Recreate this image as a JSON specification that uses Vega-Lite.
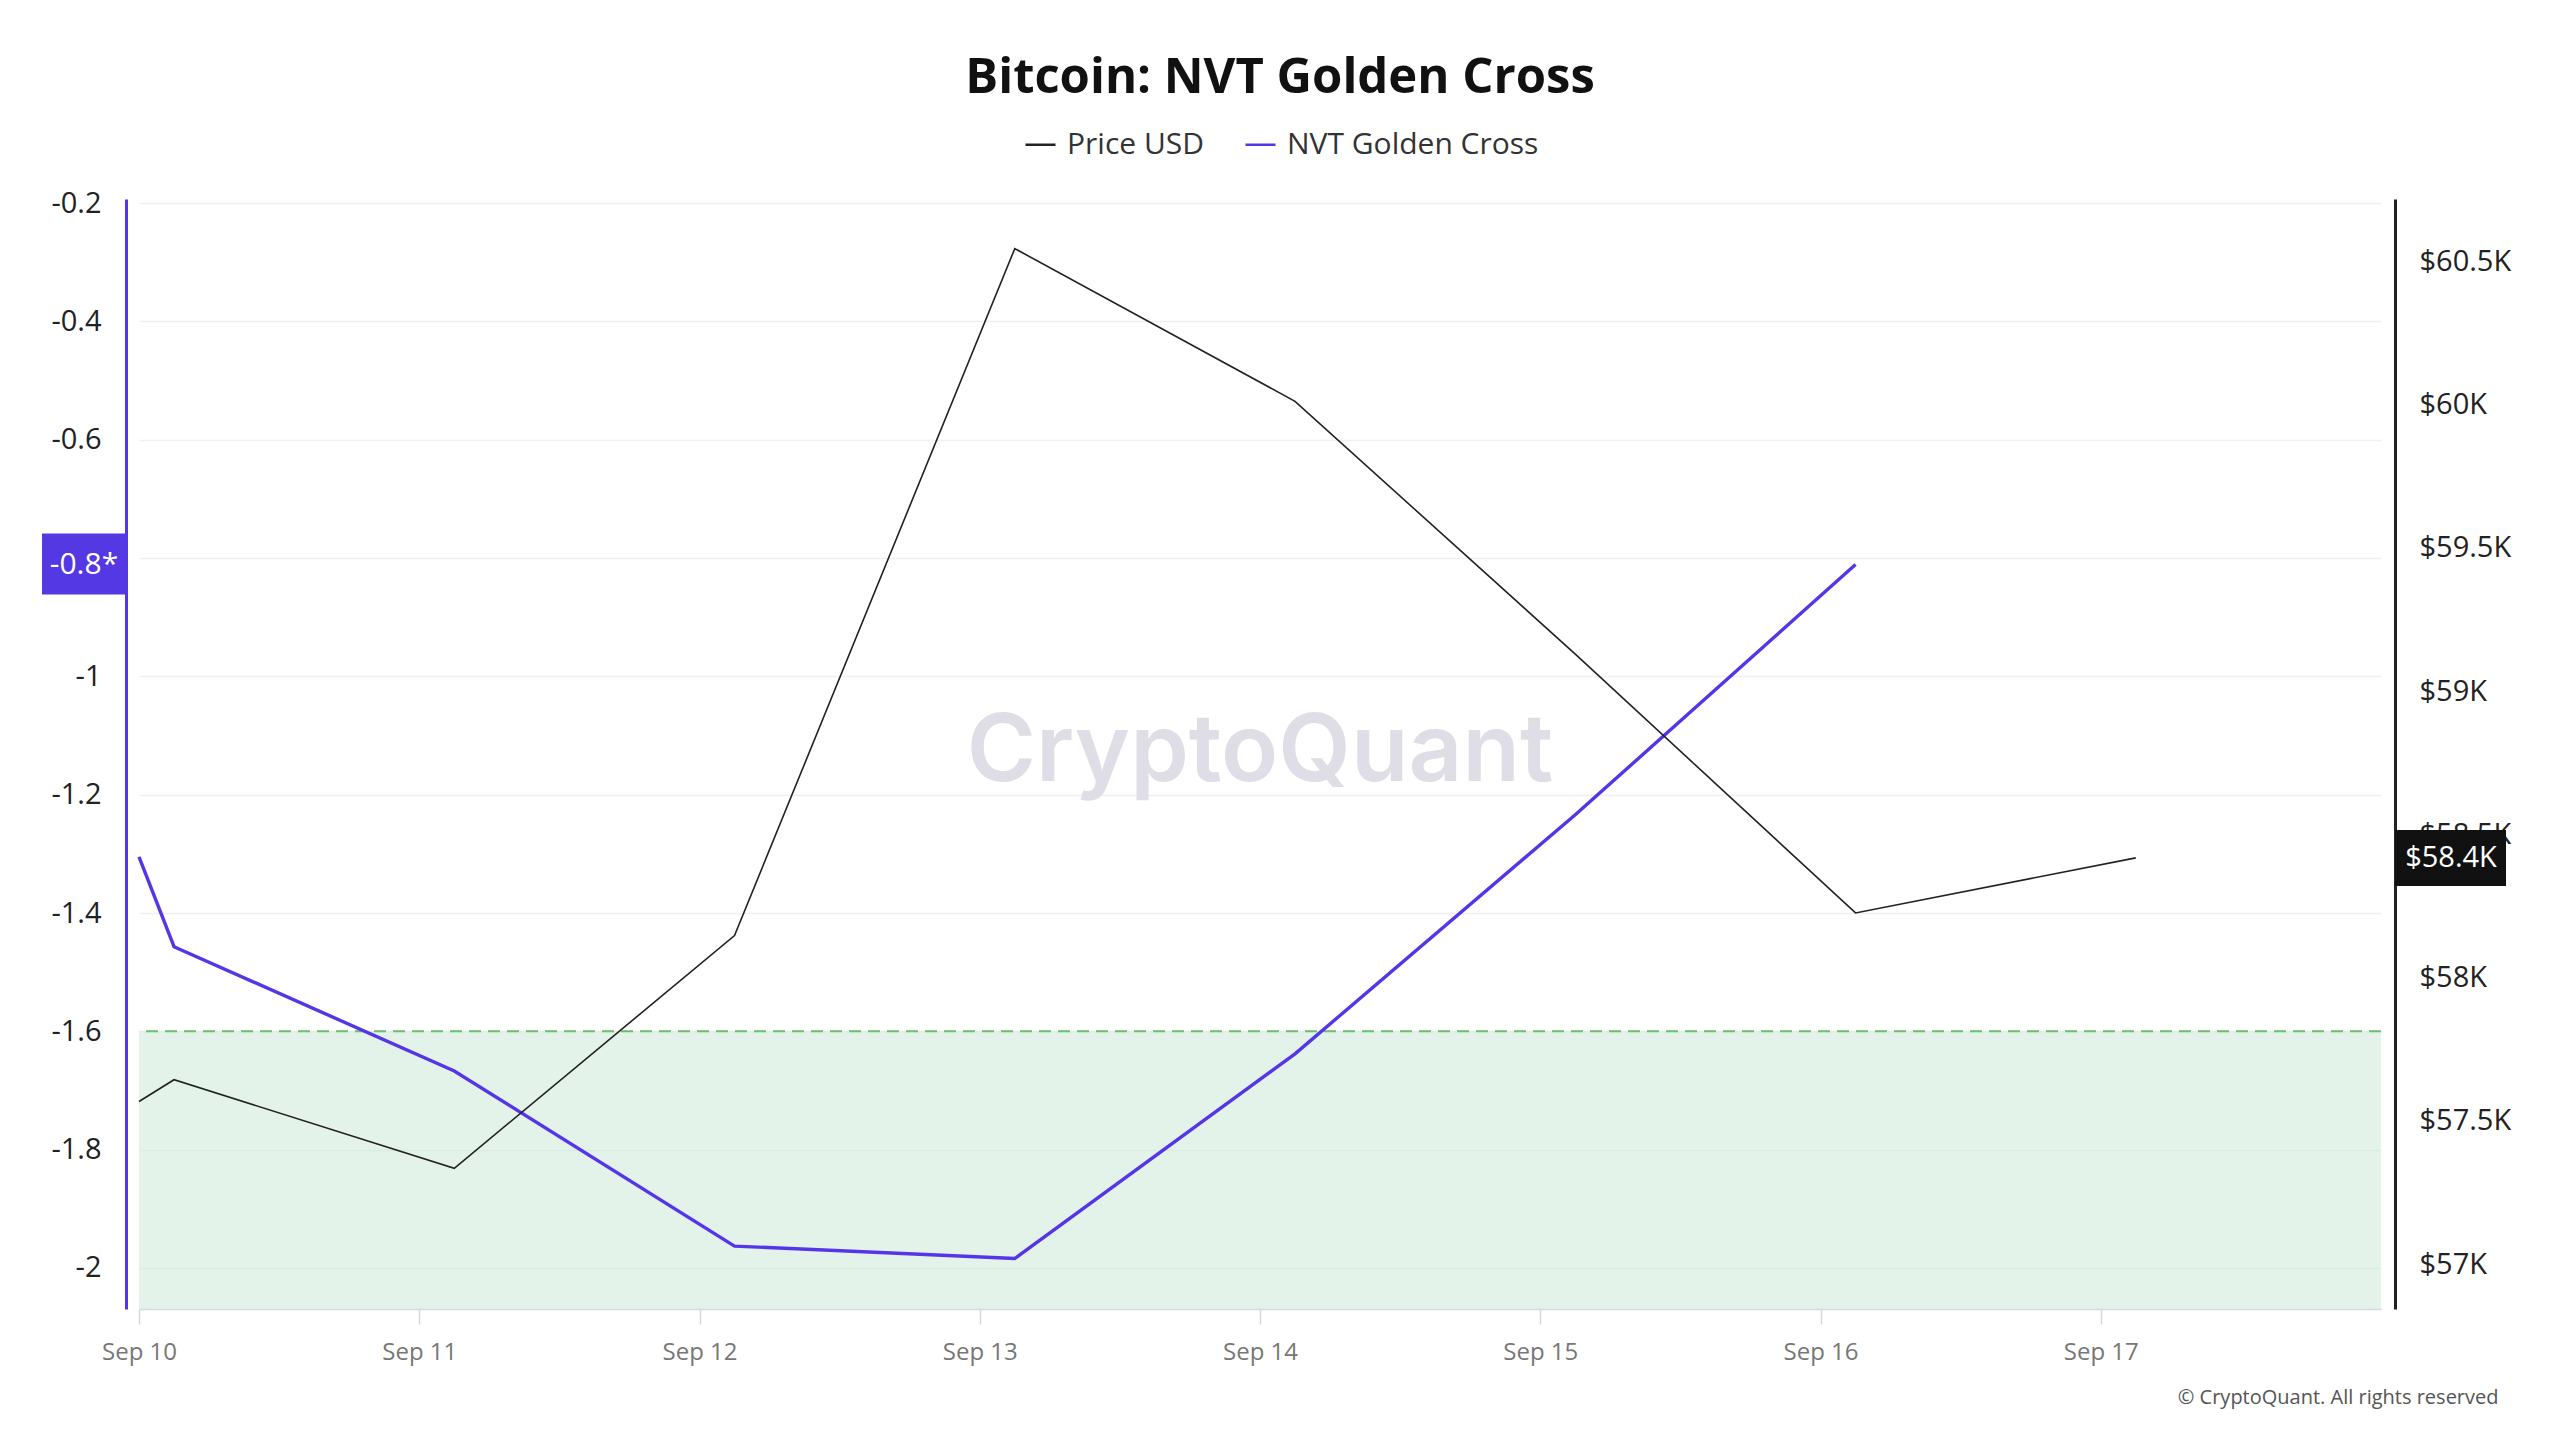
{
  "$schema": "https://vega.github.io/schema/vega-lite/v6.json",
  "width": 2242,
  "height": 1110,
  "autosize": "none",
  "padding": {"left": 139, "top": 199, "right": 179, "bottom": 131},
  "background": "white",
  "config": {
    "font": "Open Sans",
    "view": {"stroke": null},
    "locale": {"number": {"decimal": ".", "thousands": ",", "grouping": [3], "currency": ["$", ""], "minus": "-"}}
  },
  "title": {
    "text": "Bitcoin: NVT Golden Cross",
    "fontSize": 49,
    "fontWeight": "bold",
    "color": "#111111",
    "anchor": "middle",
    "dx": 20,
    "offset": 25
  },
  "datasets": {
    "series": [
      {"date": "2024-09-10T00:00:00", "price": 57568, "nvt": -1.305},
      {"date": "2024-09-10T03:00:00", "price": 57644, "nvt": -1.457},
      {"date": "2024-09-11T03:00:00", "price": 57335, "nvt": -1.667},
      {"date": "2024-09-12T03:00:00", "price": 58147, "nvt": -1.963},
      {"date": "2024-09-13T03:00:00", "price": 60544, "nvt": -1.984},
      {"date": "2024-09-14T03:00:00", "price": 60011, "nvt": -1.638},
      {"date": "2024-09-15T03:00:00", "price": 59129, "nvt": -1.234},
      {"date": "2024-09-16T03:00:00", "price": 58226, "nvt": -0.811},
      {"date": "2024-09-17T03:00:00", "price": 58418, "nvt": null}
    ],
    "lastValues": [
      {"series": "NVT Golden Cross", "date": "2024-09-16T03:00:00", "value": -0.811, "label": "-0.8*"},
      {"series": "Price USD", "date": "2024-09-17T03:00:00", "value": 58418, "label": "$58.4K"}
    ],
    "watermark": [
      {"date": "2024-09-14T00:00:00", "value": -1.13, "label": "CryptoQuant"}
    ]
  },
  "layer": [
    {
      "layer": [
        {
          "data": {"values": [{}]},
          "mark": {"type": "rect", "color": "#c8e8d4", "opacity": 0.5},
          "encoding": {
            "y": {"datum": -1.6, "type": "quantitative", "scale": {"domain": [-2.0693, -0.1932], "nice": false, "zero": false}},
            "y2": {"datum": -2.0693}
          }
        },
        {
          "data": {"values": [{}]},
          "mark": {"type": "rule", "color": "#6cbf6c", "strokeDash": [12, 7], "strokeWidth": 2},
          "encoding": {
            "y": {"datum": -1.6, "type": "quantitative", "scale": {"domain": [-2.0693, -0.1932], "nice": false, "zero": false}}
          }
        },
        {
          "data": {"name": "watermark"},
          "mark": {"type": "text", "font": "Inter", "fontSize": 94, "fontWeight": 600, "color": "#dfdee6", "align": "center", "baseline": "middle"},
          "encoding": {
            "x": {"field": "date", "type": "temporal"},
            "y": {"field": "value", "type": "quantitative", "scale": {"domain": [-2.0693, -0.1932], "nice": false, "zero": false}},
            "text": {"field": "label"}
          }
        },
        {
          "data": {"name": "series"},
          "mark": {"type": "line", "strokeWidth": 3.4},
          "encoding": {
            "x": {
              "field": "date",
              "type": "temporal",
              "scale": {"domain": [{"year": 2024, "month": 9, "date": 10}, {"year": 2024, "month": 9, "date": 18}]},
              "axis": {
                "values": [
                  {"year": 2024, "month": 9, "date": 10},
                  {"year": 2024, "month": 9, "date": 11},
                  {"year": 2024, "month": 9, "date": 12},
                  {"year": 2024, "month": 9, "date": 13},
                  {"year": 2024, "month": 9, "date": 14},
                  {"year": 2024, "month": 9, "date": 15},
                  {"year": 2024, "month": 9, "date": 16},
                  {"year": 2024, "month": 9, "date": 17}
                ],
                "format": "%b %d",
                "labelFlush": false,
                "labelFontSize": 24,
                "labelColor": "#777777",
                "labelPadding": 16,
                "tickColor": "#d5d8e0",
                "tickSize": 15,
                "tickWidth": 1.5,
                "domainColor": "#d5d8e0",
                "domainWidth": 1.5,
                "grid": false,
                "title": "© CryptoQuant. All rights reserved",
                "titleAnchor": "end",
                "titleAlign": "right",
                "titleBaseline": "alphabetic",
                "titleX": 2359,
                "titleY": 94,
                "titleFontSize": 20,
                "titleFontWeight": "normal",
                "titleColor": "#555555"
              }
            },
            "y": {
              "field": "nvt",
              "type": "quantitative",
              "scale": {"domain": [-2.0693, -0.1932], "nice": false, "zero": false},
              "axis": {
                "orient": "left",
                "offset": 13,
                "values": [-2, -1.8, -1.6, -1.4, -1.2, -1, -0.8, -0.6, -0.4, -0.2],
                "format": "~g",
                "labelFontSize": 29,
                "labelColor": "#222222",
                "labelPadding": 25,
                "ticks": false,
                "domainColor": "#5535e8",
                "domainWidth": 3,
                "grid": true,
                "gridColor": "#f0f0f0",
                "gridWidth": 1.5,
                "title": null
              }
            },
            "color": {
              "datum": "NVT Golden Cross",
              "type": "nominal",
              "scale": {"domain": ["Price USD", "NVT Golden Cross"], "range": ["#222222", "#5535e8"]},
              "legend": {
                "orient": "none",
                "legendX": 885,
                "legendY": -71,
                "direction": "horizontal",
                "title": null,
                "symbolType": "stroke",
                "symbolSize": 900,
                "symbolStrokeWidth": 2.5,
                "labelFontSize": 30,
                "labelLimit": 0,
                "labelColor": "#333333",
                "labelOffset": 10,
                "columnPadding": 36
              }
            }
          }
        },
        {
          "data": {"name": "lastValues"},
          "transform": [{"filter": "datum.series === 'NVT Golden Cross'"}],
          "mark": {"type": "rect", "color": "#5438e4", "xOffset": -97, "x2Offset": -13, "yOffset": -31, "y2Offset": 30},
          "encoding": {
            "x": {"datum": {"year": 2024, "month": 9, "date": 10}, "type": "temporal"},
            "x2": {"datum": {"year": 2024, "month": 9, "date": 10}},
            "y": {"field": "value", "type": "quantitative", "scale": {"domain": [-2.0693, -0.1932], "nice": false, "zero": false}},
            "y2": {"field": "value"}
          }
        },
        {
          "data": {"name": "lastValues"},
          "transform": [{"filter": "datum.series === 'NVT Golden Cross'"}],
          "mark": {"type": "text", "color": "white", "fontSize": 30, "dx": -55, "align": "center", "baseline": "middle"},
          "encoding": {
            "x": {"datum": {"year": 2024, "month": 9, "date": 10}, "type": "temporal"},
            "y": {"field": "value", "type": "quantitative", "scale": {"domain": [-2.0693, -0.1932], "nice": false, "zero": false}},
            "text": {"field": "label"}
          }
        }
      ]
    },
    {
      "layer": [
        {
          "data": {"name": "series"},
          "mark": {"type": "line", "strokeWidth": 1.6},
          "encoding": {
            "x": {"field": "date", "type": "temporal"},
            "y": {
              "field": "price",
              "type": "quantitative",
              "scale": {"domain": [56844, 60717], "nice": false, "zero": false},
              "axis": {
                "orient": "right",
                "offset": 14,
                "values": [57000, 57500, 58000, 58500, 59000, 59500, 60000, 60500],
                "labelExpr": "'$' + format(datum.value / 1000, '~g') + 'K'",
                "labelFontSize": 29,
                "labelColor": "#222222",
                "labelPadding": 24,
                "ticks": false,
                "domainColor": "#222222",
                "domainWidth": 3,
                "grid": false,
                "title": null
              }
            },
            "color": {"datum": "Price USD", "type": "nominal"}
          }
        },
        {
          "data": {"name": "lastValues"},
          "transform": [{"filter": "datum.series === 'Price USD'"}],
          "mark": {"type": "rect", "color": "#111111", "xOffset": 14, "x2Offset": 125, "yOffset": -28, "y2Offset": 28},
          "encoding": {
            "x": {"datum": {"year": 2024, "month": 9, "date": 18}, "type": "temporal"},
            "x2": {"datum": {"year": 2024, "month": 9, "date": 18}},
            "y": {"field": "value", "type": "quantitative", "scale": {"domain": [56844, 60717], "nice": false, "zero": false}},
            "y2": {"field": "value"}
          }
        },
        {
          "data": {"name": "lastValues"},
          "transform": [{"filter": "datum.series === 'Price USD'"}],
          "mark": {"type": "text", "color": "white", "fontSize": 29, "dx": 70, "align": "center", "baseline": "middle"},
          "encoding": {
            "x": {"datum": {"year": 2024, "month": 9, "date": 18}, "type": "temporal"},
            "y": {"field": "value", "type": "quantitative", "scale": {"domain": [56844, 60717], "nice": false, "zero": false}},
            "text": {"field": "label"}
          }
        }
      ]
    }
  ],
  "resolve": {"scale": {"y": "independent"}}
}
